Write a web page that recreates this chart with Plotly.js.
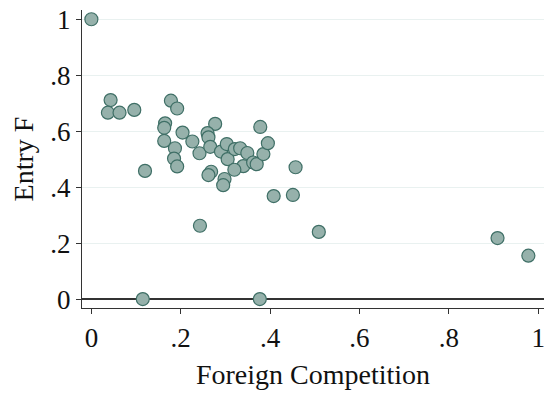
<!DOCTYPE html>
<html>
<head>
<meta charset="utf-8">
<script src="https://cdn.plot.ly/plotly-3.0.1.min.js"></script>
<style>
  html, body { margin: 0; padding: 0; background: #ffffff; }
  #chart { width: 544px; height: 393px; }
</style>
</head>
<body>
<div id="chart"></div>
<script>
// Industry-level observations: share of foreign competition vs. entry rate
const foreignCompetition = [
  0.000, 0.043, 0.037, 0.063, 0.096, 0.120, 0.115,
  0.178, 0.192, 0.165, 0.163, 0.163, 0.204, 0.187, 0.185, 0.192,
  0.226, 0.242, 0.243,
  0.277, 0.260, 0.262, 0.266, 0.290, 0.303, 0.305, 0.321, 0.333, 0.349,
  0.340, 0.320, 0.268, 0.262, 0.298, 0.295,
  0.362, 0.370, 0.385, 0.395, 0.378, 0.377,
  0.457, 0.408, 0.451, 0.509, 0.909, 0.978
];
const entryRate = [
  1.000, 0.711, 0.666, 0.666, 0.676, 0.458, 0.000,
  0.709, 0.681, 0.628, 0.612, 0.565, 0.595, 0.539, 0.502, 0.474,
  0.563, 0.521, 0.262,
  0.626, 0.593, 0.578, 0.544, 0.527, 0.554, 0.500, 0.536, 0.539, 0.522,
  0.475, 0.462, 0.455, 0.443, 0.429, 0.407,
  0.488, 0.482, 0.518, 0.557, 0.615, 0.000,
  0.471, 0.368, 0.372, 0.240, 0.218, 0.155
];
const xTickVals = [0, 0.2, 0.4, 0.6, 0.8, 1];
const xTickText = ["0", ".2", ".4", ".6", ".8", "1"];
const yTickVals = [0, 0.2, 0.4, 0.6, 0.8, 1];
const yTickText = ["0", ".2", ".4", ".6", ".8", "1"];

const serif = "Liberation Serif, Times New Roman, Times, DejaVu Serif, serif";

const trace = {
  type: "scatter",
  mode: "markers",
  x: foreignCompetition,
  y: entryRate,
  marker: {
    size: 13,
    color: "#96b1ab",
    line: { color: "#3f6f66", width: 1.2 }
  },
  hoverinfo: "x+y"
};

const layout = {
  width: 544,
  height: 393,
  paper_bgcolor: "#ffffff",
  plot_bgcolor: "#ffffff",
  margin: { l: 82, r: 0, t: 10, b: 85 },
  showlegend: false,
  font: { family: serif, size: 27, color: "#111111" },
  xaxis: {
    range: [-0.021, 1.013],
    tickvals: xTickVals,
    ticktext: xTickText,
    ticks: "outside",
    ticklen: 5,
    tickwidth: 1,
    tickcolor: "#333333",
    ticklabeloverflow: "allow",
    showline: true,
    linecolor: "#333333",
    linewidth: 1.2,
    showgrid: false,
    zeroline: false,
    tickfont: { family: serif, size: 27, color: "#111111" },
    title: { text: "Foreign Competition", font: { family: serif, size: 28, color: "#111111" }, standoff: 12 }
  },
  yaxis: {
    range: [-0.032, 1.033],
    tickvals: yTickVals,
    ticktext: yTickText,
    ticks: "outside",
    ticklen: 5,
    tickwidth: 1,
    tickcolor: "#333333",
    showline: true,
    linecolor: "#333333",
    linewidth: 1.2,
    showgrid: true,
    gridcolor: "#e9f1f0",
    gridwidth: 1,
    zeroline: true,
    zerolinecolor: "#333333",
    zerolinewidth: 1.5,
    tickfont: { family: serif, size: 27, color: "#111111" },
    title: { text: "Entry F", font: { family: serif, size: 28, color: "#111111" }, standoff: 8 }
  }
};

Plotly.newPlot("chart", [trace], layout, { displayModeBar: false, staticPlot: true });
</script>
</body>
</html>
